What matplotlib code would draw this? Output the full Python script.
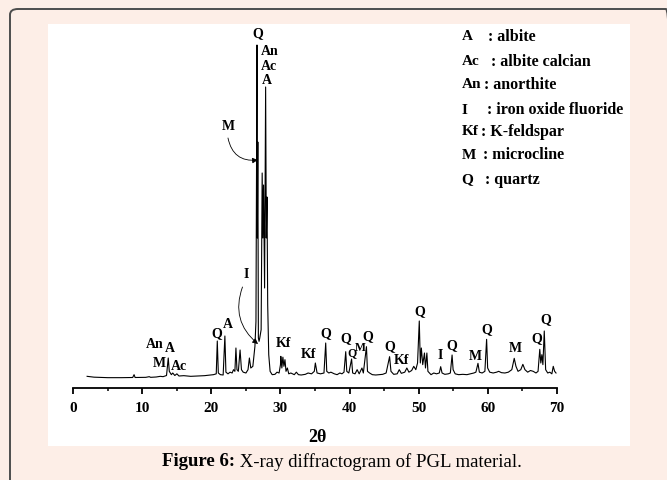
import matplotlib
matplotlib.use("Agg")
import matplotlib.pyplot as plt
from matplotlib.patches import FancyBboxPatch, Rectangle
from matplotlib.ticker import MultipleLocator

# ---------------- data ----------------
two_theta = [
    2.0, 3.0, 5.0, 7.0, 8.6, 8.8, 8.95, 10.5, 11.0, 11.2, 12.0, 12.6, 13.0, 13.5,
    13.75, 13.9, 14.2, 14.4, 14.7, 15.0, 15.3, 16.0, 17.0, 18.0, 19.0, 19.8, 20.3,
    20.7, 20.85, 21.0, 21.3, 21.7, 21.95, 22.1, 22.4, 22.7, 23.0, 23.2, 23.4, 23.55,
    23.7, 23.9, 24.15, 24.35, 24.6, 25.0, 25.3, 25.5, 25.7, 26.0, 26.3, 26.45, 26.6,
    26.65, 26.72, 26.8, 26.9, 27.0, 27.2, 27.35, 27.45, 27.55, 27.7, 27.85, 27.95,
    28.05, 28.15, 28.3, 28.5, 28.8, 29.2, 29.5, 29.8, 30.0, 30.05, 30.2, 30.35, 30.5,
    30.65, 30.8, 31.0, 31.2, 31.5, 32.0, 32.3, 32.6, 33.0, 33.6, 34.0, 34.5, 34.9,
    35.05, 35.3, 35.8, 36.3, 36.55, 36.7, 37.0, 37.3, 37.8, 38.2, 38.6, 38.9, 39.2,
    39.45, 39.6, 39.9, 40.3, 40.45, 40.8, 41.1, 41.4, 41.8, 42.0, 42.45, 42.6, 42.9,
    43.3, 43.8, 44.3, 44.8, 45.3, 45.8, 46.0, 46.4, 46.9, 47.2, 47.5, 48.0, 48.3,
    48.6, 49.0, 49.3, 49.6, 49.85, 50.1, 50.25, 50.4, 50.6, 50.85, 51.0, 51.2, 51.35,
    51.8, 52.2, 52.6, 53.0, 53.2, 53.4, 53.8, 54.3, 54.6, 54.85, 55.0, 55.3, 55.8,
    56.4, 57.0, 57.5, 58.0, 58.3, 58.6, 58.8, 59.2, 59.6, 59.85, 60.0, 60.3, 60.8,
    61.3, 61.6, 62.0, 62.5, 63.0, 63.5, 63.85, 64.1, 64.4, 64.8, 65.1, 65.4, 65.8,
    66.2, 66.6, 67.0, 67.3, 67.55, 67.7, 67.85, 68.0, 68.2, 68.4, 68.7, 69.0, 69.3,
    69.5, 69.7, 69.9,
]
intensity = [
    70, 65, 62, 62, 63, 80, 63, 64, 68, 64, 66, 70, 68, 75,
    180, 100, 80, 90, 75, 85, 72, 74, 70, 72, 74, 78, 80,
    85, 282, 90, 80, 78, 312, 95, 85, 95, 90, 110, 100, 240,
    110, 100, 228, 110, 95, 90, 110, 180, 120, 130, 250, 400, 2058,
    900, 1476, 300, 280, 300, 350, 1290, 900, 1218, 600, 1806, 900,
    1146, 500, 200, 100, 80, 82, 95, 90, 140, 190, 120, 185, 130,
    170, 100, 120, 85, 90, 80, 95, 80, 78, 82, 90, 85, 100,
    150, 90, 85, 90, 270, 100, 90, 95, 85, 80, 90, 85, 95,
    218, 100, 90, 174, 90, 85, 110, 85, 120, 90, 248, 100, 90,
    80, 78, 80, 82, 90, 188, 100, 82, 85, 110, 88, 95, 120,
    95, 105, 130, 110, 150, 402, 150, 240, 140, 210, 120, 210, 100,
    80, 90, 85, 90, 128, 90, 82, 85, 90, 198, 110, 85, 80,
    82, 80, 85, 90, 95, 148, 95, 90, 100, 292, 120, 95, 90,
    95, 100, 92, 90, 95, 110, 178, 130, 100, 110, 142, 110, 95,
    105, 100, 90, 100, 232, 150, 200, 140, 342, 110, 90, 95, 85,
    130, 100, 90,
]

x_ticks = [0, 10, 20, 30, 40, 50, 60, 70]

peak_labels = ["Q", "An", "Ac", "A", "M", "I", "Q", "A", "An", "A", "M", "Ac",
               "Kf", "Kf", "Q", "Q", "Q", "M", "Q", "Q", "Kf", "Q", "I", "Q",
               "M", "Q", "M", "Q", "Q"]
label_2theta = [26.7, 28.38, 28.38, 28.0, 22.44, 25.1, 20.76, 22.36, 11.83, 14.0,
                12.41, 15.35, 30.4, 34.03, 36.55, 39.49, 40.31, 41.6, 42.57, 45.76,
                47.55, 50.1, 53.2, 54.84, 58.17, 59.86, 63.96, 67.1, 68.4]
label_intensity = [2124, 2018, 1928, 1848, 1568, 682, 328, 378, 258, 238,
                   148, 128, 268, 204, 328, 298, 208, 240, 308, 248,
                   168, 458, 194, 252, 192, 352, 238, 298, 408]

legend_abbr = ["A", "Ac", "An", "I", "Kf", "M", "Q"]
legend_desc = [": albite", ": albite calcian", ": anorthite", ": iron oxide fluoride",
               ": K-feldspar", ": microcline", ": quartz"]

# ---------------- figure ----------------
W, H = 667, 480
BG = "#fdeee7"
SERIF = "Liberation Serif"

fig = plt.figure(figsize=(W / 100, H / 100), dpi=100, facecolor=BG)


def fx(px):
    return px / W


def fy(py):
    return 1 - py / H


# frame with rounded top-left corner
frame = FancyBboxPatch((fx(10), fy(520)), fx(674) - fx(10), fy(9) - fy(520),
                       boxstyle="round,pad=0,rounding_size=0.012",
                       transform=fig.transFigure, facecolor="none",
                       edgecolor="#4d4d4d", linewidth=1.4, zorder=-2)
fig.patches.append(frame)

# white panel
panel = Rectangle((fx(48), fy(446)), fx(630) - fx(48), fy(24) - fy(446),
                  transform=fig.transFigure, facecolor="white",
                  edgecolor="none", zorder=-1)
fig.patches.append(panel)

ax_left, ax_right = 73.3, 556.7
ax_bottom, ax_top = 388, 25
ax = fig.add_axes([fx(ax_left), fy(ax_bottom), fx(ax_right) - fx(ax_left),
                   fy(ax_top) - fy(ax_bottom)])
ax.set_zorder(1)
ax.set_facecolor("none")

ax.plot(two_theta, intensity, color="black", linewidth=0.8)

ax.set_xlim(0, 70)
ax.set_ylim(0, 2178)
ax.set_xticks(x_ticks)
ax.xaxis.set_minor_locator(MultipleLocator(5))
ax.set_yticks([])
for s in ("left", "top", "right"):
    ax.spines[s].set_visible(False)
ax.spines["bottom"].set_linewidth(1.3)
ax.tick_params(axis="x", which="major", direction="out", length=4, width=1.3, pad=6)
ax.tick_params(axis="x", which="minor", direction="out", length=2.5, width=1.1)
for lab in ax.get_xticklabels():
    lab.set_fontfamily(SERIF)
    lab.set_fontweight("bold")
    lab.set_fontsize(11)

# peak labels
for lab, xx, yy in zip(peak_labels, label_2theta, label_intensity):
    small = (lab == "M" and 41 < xx < 42) or (lab == "Q" and 40 < xx < 41)
    ax.text(xx, yy, lab, ha="center", va="center", fontfamily=SERIF,
            fontweight="bold", fontsize=8.5 if small else 10, clip_on=False)

# curved arrows
ax.annotate("", xy=(26.73, 1368), xytext=(22.4, 1500),
            arrowprops=dict(arrowstyle="-|>", connectionstyle="arc3,rad=0.45",
                            lw=0.6, color="black", mutation_scale=8,
                            shrinkA=0, shrinkB=0))
ax.annotate("", xy=(26.75, 264), xytext=(24.5, 606),
            arrowprops=dict(arrowstyle="-|>", connectionstyle="arc3,rad=0.35",
                            lw=0.6, color="black", mutation_scale=8,
                            shrinkA=0, shrinkB=0))

# legend text
leg_y = [36.7, 61.7, 85, 110, 131.7, 155, 180]
colon_x = [488, 490.7, 484, 486.7, 480.7, 482.7, 485]
for abbr, desc, py, cx in zip(legend_abbr, legend_desc, leg_y, colon_x):
    fig.text(fx(461.7), fy(py), abbr, ha="left", va="center", fontfamily=SERIF,
             fontweight="bold", fontsize=11, zorder=3)
    fig.text(fx(cx), fy(py), desc, ha="left", va="center", fontfamily=SERIF,
             fontweight="bold", fontsize=11.5, zorder=3)

# x label
fig.text(fx(317), fy(437), "2θ", ha="center", va="center", fontfamily=SERIF,
         fontweight="bold", fontsize=13, zorder=3)

# caption
fig.canvas.draw()
r = fig.canvas.get_renderer()
t1 = fig.text(0, fy(462), "Figure 6:", ha="left", va="center", fontfamily=SERIF,
              fontweight="bold", fontsize=13.5, zorder=3)
t2 = fig.text(0, fy(462), " X-ray diffractogram of PGL material.", ha="left",
              va="center", fontfamily=SERIF, fontsize=13.5, zorder=3)
w1 = t1.get_window_extent(r).width
w2 = t2.get_window_extent(r).width
start = 342 - (w1 + w2) / 2
t1.set_x(fx(start))
t2.set_x(fx(start + w1))

fig.savefig("out.png", dpi=100, facecolor=BG)
